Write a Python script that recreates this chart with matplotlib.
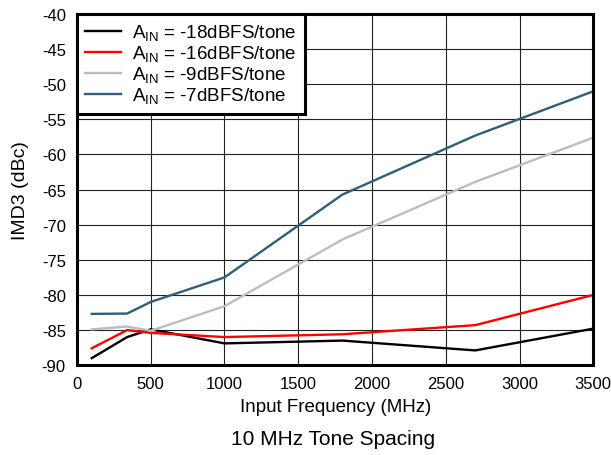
import numpy as np
import matplotlib.pyplot as plt

plt.rcParams['font.family'] = ['Liberation Sans', 'DejaVu Sans']
plt.rcParams['mathtext.fontset'] = 'custom'
plt.rcParams['mathtext.rm'] = 'Liberation Sans'
plt.rcParams['mathtext.it'] = 'Liberation Sans'
plt.rcParams['axes.unicode_minus'] = False

# input frequency points (MHz)
freq = [100, 340, 500, 1000, 1800, 2700, 3500]

# IMD3 (dBc)
imd3_m18 = [-89.0, -86.0, -84.9, -86.9, -86.5, -87.9, -84.8]
imd3_m16 = [-87.6, -85.0, -85.4, -86.0, -85.6, -84.3, -80.0]
imd3_m9 = [-84.9, -84.5, -85.1, -81.6, -72.1, -63.9, -57.6]
imd3_m7 = [-82.7, -82.65, -81.0, -77.5, -65.7, -57.3, -51.0]

labels = [r'A$_{\mathrm{IN}}$ = -18dBFS/tone',
          r'A$_{\mathrm{IN}}$ = -16dBFS/tone',
          r'A$_{\mathrm{IN}}$ = -9dBFS/tone',
          r'A$_{\mathrm{IN}}$ = -7dBFS/tone']
colors = ['#000000', '#ff0000', '#bdbdbd', '#2f5f78']

fig = plt.figure(figsize=(6.11, 4.56), dpi=100)
ax = fig.add_axes([0.126, 0.197, 0.845, 0.770])

for y, lab, c in zip([imd3_m18, imd3_m16, imd3_m9, imd3_m7], labels, colors):
    ax.plot(freq, y, color=c, lw=1.7, label=lab)

ax.set_xlim(0, 3500)
ax.set_ylim(-90, -40)
ax.set_xticks(np.arange(0, 3501, 500))
ax.set_yticks(np.arange(-90, -39, 5))
ax.grid(True, color='#222222', lw=0.8)
ax.set_axisbelow(True)
ax.tick_params(length=0, labelsize=12)
ax.tick_params(axis='x', pad=8)
ax.tick_params(axis='y', pad=8)
for s in ax.spines.values():
    s.set_linewidth(2.2)

ax.set_xlabel('Input Frequency (MHz)', fontsize=13.5, labelpad=5)
ax.set_ylabel('IMD3 (dBc)', fontsize=14, labelpad=9)
fig.text(0.545, 0.025, '10 MHz Tone Spacing', ha='center', fontsize=15)

leg = ax.legend(loc='upper left', fontsize=13.5, frameon=True, fancybox=False,
                borderaxespad=0.0, handlelength=1.9, handletextpad=0.6,
                labelspacing=0.05, borderpad=0.45)
leg.get_frame().set_edgecolor('black')
leg.get_frame().set_linewidth(2.2)
leg.get_frame().set_alpha(1)

plt.savefig('out.png', dpi=100)
